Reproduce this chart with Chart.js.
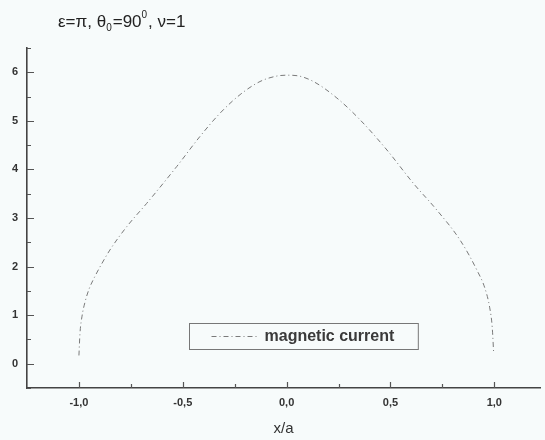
<!DOCTYPE html>
<html>
<head>
<meta charset="utf-8">
<script src="https://cdn.jsdelivr.net/npm/chart.js@4/dist/chart.umd.min.js"></script>
<style>
  html, body { margin: 0; padding: 0; background: #f7fbfb; }
  canvas { display: block; }
</style>
</head>
<body>
<canvas id="chart" width="545" height="440"></canvas>
<script>
// values
const xValues = [-1.0, -0.995, -0.985, -0.97, -0.95, -0.925, -0.899, -0.851, -0.770, -0.674, -0.529, -0.417, -0.320, -0.224, -0.128, -0.05, 0.0, 0.05, 0.129, 0.242, 0.354, 0.483, 0.611, 0.724, 0.836, 0.917, 0.955, 0.978, 0.99, 0.997];
const currentValues = [0.17, 0.62, 0.98, 1.28, 1.55, 1.78, 1.99, 2.34, 2.82, 3.30, 4.06, 4.68, 5.16, 5.54, 5.81, 5.92, 5.94, 5.93, 5.81, 5.47, 5.02, 4.40, 3.71, 3.16, 2.54, 1.92, 1.55, 1.15, 0.75, 0.21];
const seriesLabel = 'magnetic current';
const xTitle = 'x/a';
// title pieces: [text, 'base' | 'sub' | 'sup']
const titleParts = [['ε=π, θ', 'base'], ['0', 'sub'], ['=90', 'base'], ['0', 'sup'], [', ν=1', 'base']];

const FONT = '"Liberation Sans", Arial, sans-serif';
const INK = '#333';

// background, inward tick marks, title and legend box
const frame = {
    id: 'frame',
    beforeDraw(chart) {
        const c = chart.ctx;
        c.save();
        c.fillStyle = '#f7fbfb';
        c.fillRect(0, 0, chart.width, chart.height);
        c.restore();
    },
    afterDraw(chart) {
        const c = chart.ctx;
        const area = chart.chartArea;
        const xs = chart.scales.x, ys = chart.scales.y;
        c.save();
        c.strokeStyle = '#555';
        c.lineWidth = 1.2;
        c.beginPath();
        for (let v = -1.0; v <= 1.0001; v += 0.25) {
            const px = Math.round(xs.getPixelForValue(v)) + 0.5;
            const len = Math.abs(v * 2 - Math.round(v * 2)) < 1e-6 ? 6 : 4;
            c.moveTo(px, area.bottom);
            c.lineTo(px, area.bottom - len);
        }
        for (let v = -0.5; v <= 6.5001; v += 0.5) {
            const py = Math.round(ys.getPixelForValue(v)) + 0.5;
            const len = Math.abs(v - Math.round(v)) < 1e-6 ? 7 : 4;
            c.moveTo(area.left, py);
            c.lineTo(area.left + len, py);
        }
        c.stroke();

        // title with sub/superscripts
        let x = 58;
        const base = 27;
        titleParts.forEach(([txt, kind]) => {
            const size = kind === 'base' ? 17 : 10;
            const dy = kind === 'sub' ? 4 : kind === 'sup' ? -9 : 0;
            c.font = size + 'px ' + FONT;
            c.fillStyle = '#222';
            c.textBaseline = 'alphabetic';
            c.fillText(txt, x, base + dy);
            x += c.measureText(txt).width + (kind === 'base' ? 0 : 1);
        });

        // legend box inside the plot
        const ds = chart.data.datasets[0];
        c.font = 'bold 16px ' + FONT;
        const tw = c.measureText(ds.label).width;
        const bx = 189.5, by = 323.5, bh = 26;
        const bw = 22 + 47 + 6 + tw + 24;
        c.strokeStyle = '#777';
        c.lineWidth = 1;
        c.strokeRect(bx, by, bw, bh);
        c.setLineDash(ds.borderDash);
        c.strokeStyle = ds.borderColor;
        c.beginPath();
        c.moveTo(bx + 22, by + 13);
        c.lineTo(bx + 69, by + 13);
        c.stroke();
        c.setLineDash([]);
        c.fillStyle = '#3a3a3a';
        c.textBaseline = 'middle';
        c.fillText(ds.label, bx + 75, by + 13.5);
        c.restore();
    }
};

const points = xValues.map((x, i) => ({ x: x, y: currentValues[i] }));

new Chart(document.getElementById('chart'), {
    type: 'line',
    data: {
        datasets: [{
            label: seriesLabel,
            data: points,
            borderColor: '#7a7a7a',
            borderWidth: 1,
            borderDash: [5, 3, 1, 3],
            pointRadius: 0,
            cubicInterpolationMode: 'monotone',
            fill: false
        }]
    },
    options: {
        responsive: false,
        animation: false,
        devicePixelRatio: 1,
        layout: { padding: { top: 48, right: 5, left: 0, bottom: 0 } },
        plugins: {
            legend: { display: false },
            tooltip: { enabled: false }
        },
        scales: {
            x: {
                type: 'linear',
                min: -1.25,
                max: 1.22,
                afterFit: scale => { scale.height = 52; },
                grid: { display: false, drawTicks: false },
                border: { display: true, color: '#444', width: 1.6 },
                ticks: {
                    stepSize: 0.5,
                    includeBounds: false,
                    padding: 8,
                    color: INK,
                    font: { family: FONT, size: 11, weight: 'bold' },
                    callback: v => v.toFixed(1).replace('.', ',')
                },
                title: {
                    display: true,
                    text: xTitle,
                    color: INK,
                    font: { family: FONT, size: 15 },
                    padding: { top: 0, bottom: 2 }
                }
            },
            y: {
                type: 'linear',
                min: -0.5,
                max: 6.5,
                afterFit: scale => { scale.width = 27; },
                grid: { display: false, drawTicks: false },
                border: { display: true, color: '#444', width: 1.6 },
                ticks: {
                    stepSize: 0.5,
                    padding: 9,
                    color: INK,
                    font: { family: FONT, size: 11, weight: 'bold' },
                    callback: v => (Math.abs(v - Math.round(v)) < 1e-6 ? String(Math.round(v)) : '')
                }
            }
        }
    },
    plugins: [frame]
});
</script>
</body>
</html>
